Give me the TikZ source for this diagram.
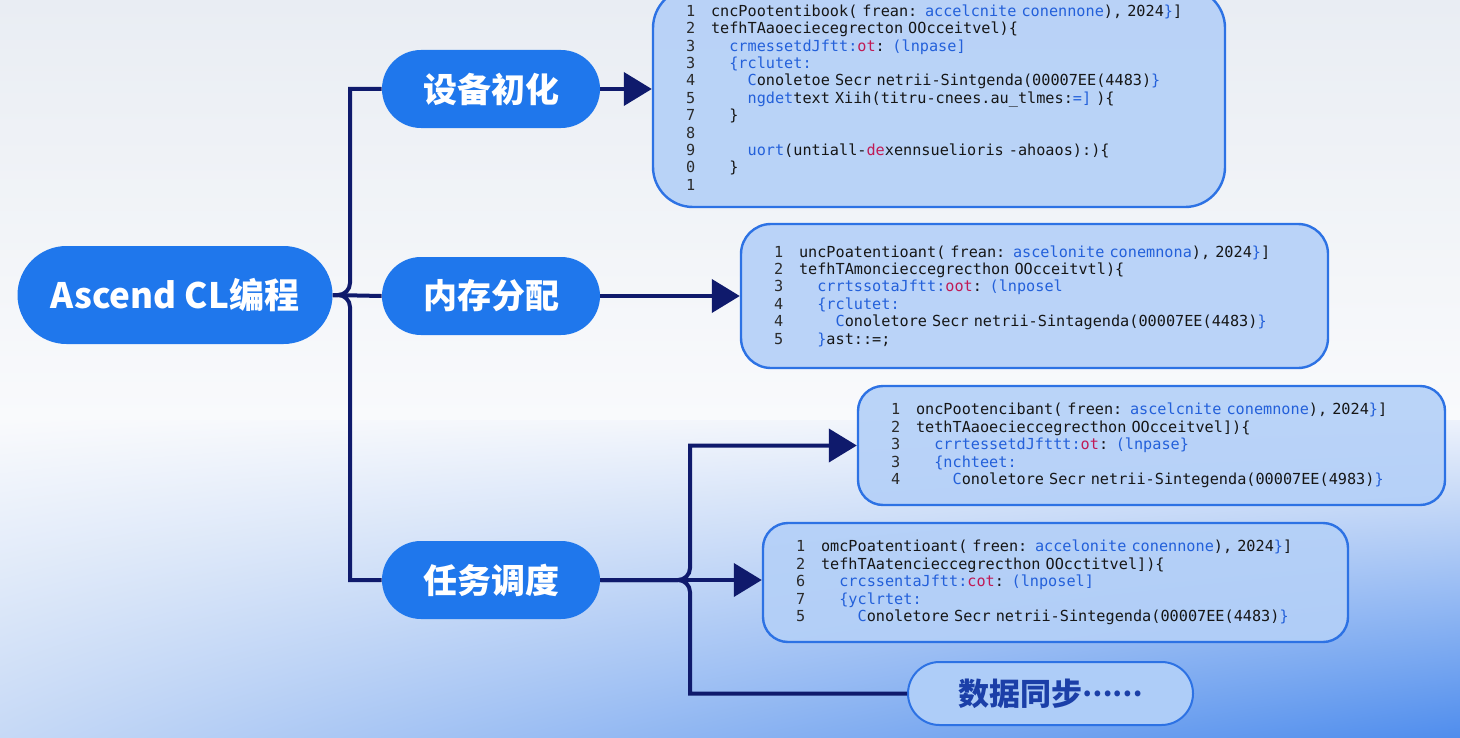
\documentclass[tikz,border=0pt]{standalone}
\usepackage{fontspec}
\setmonofont{DejaVu Sans Mono}[WordSpace={1,0,0}]
\newfontfamily\cjk{Noto Sans CJK SC}
\usetikzlibrary{arrows.meta,shadings}
\definecolor{bgtop}{HTML}{E9EDF3}
\definecolor{bgmid}{HTML}{F9FAFC}
\definecolor{bgmidr}{HTML}{EDF2FB}
\definecolor{bgbl}{HTML}{C6D9F6}
\definecolor{bgbr}{HTML}{4F8DED}
\definecolor{pillblue}{HTML}{1F77EC}
\definecolor{linenavy}{HTML}{0F1A6C}
\definecolor{boxfill}{HTML}{B4D0F8}
\definecolor{boxline}{HTML}{2D72E4}
\definecolor{lightpill}{HTML}{AECDF8}
\definecolor{pilltext}{HTML}{1B3FA8}
\definecolor{numgray}{HTML}{2B2B2B}
\definecolor{codeblack}{HTML}{161616}
\definecolor{codeblue}{HTML}{2360DA}
\definecolor{codered}{HTML}{C01A55}

\newlength\codew
\setlength\codew{4.575pt}
\newcommand\codeind[1]{\hspace*{#1\codew}}
\newcommand\cblue[1]{\textcolor{codeblue}{#1}}
\newcommand\cred[1]{\textcolor{codered}{#1}}
\newcommand\codeln[2]{\makebox[12.5pt][l]{\textcolor{numgray}{#1}}#2}

\tikzset{
  pill/.style={rectangle, rounded corners=19.5pt, fill=pillblue, text=white,
    minimum width=109pt, minimum height=39pt, inner sep=0pt,
    font=\cjk\bfseries\fontsize{17}{20}\selectfont},
  endpill/.style={rectangle, rounded corners=15.75pt, fill=lightpill, draw=boxline,
    line width=1pt, text=pilltext, minimum width=142.5pt, minimum height=31.5pt,
    inner sep=0pt, font=\cjk\bfseries\fontsize{15.5}{18}\selectfont},
  codebox/.style={rectangle, draw=boxline, line width=1.2pt, fill=boxfill,
    fill opacity=0.9, text opacity=1, text=codeblack, align=left,
    inner xsep=16.5pt, inner ysep=0pt,
    font=\ttfamily\fontsize{7.6}{8.7}\selectfont},
  link/.style={draw=linenavy, line width=2pt},
  arrowlink/.style={link, -{Triangle[length=14pt,width=16.5pt]}}
}

\begin{document}
\begin{tikzpicture}[x=0.5pt,y=-0.5pt]
  \useasboundingbox (0,0) rectangle (1460,738);
  \clip (0,0) rectangle (1460,738);
  \shade[top color=bgtop, bottom color=bgmid] (0,0) rectangle (1460,421);
  \shade[upper left=bgmid, upper right=bgmidr, lower left=bgbl, lower right=bgbr]
    (0,420) rectangle (1460,738);

  % main branches
  \node[pill, rounded corners=24.5pt, minimum width=157.5pt, minimum height=49pt,
    font=\cjk\bfseries\fontsize{17.5}{20}\selectfont] (root) at (175,295) {Ascend CL编程};
  \node[pill] (sbinit) at (491,89) {设备初化};
  \node[pill] (ncfp) at (491,296) {内存分配};
  \node[pill] (rwdd) at (491,580) {任务调度};

  % code panels
  \node[codebox, rounded corners=20pt, text width=253pt, minimum height=109.5pt] (code1) at (939,97.5) {%
    \codeln{1}{cncPootentibook( frean: \cblue{accelcnite conennone}), 2024\cblue{\}}]}\\
    \codeln{2}{tefhTAaoeciecegrecton OOcceitvel)\{}\\
    \codeln{3}{\codeind{2}\cblue{crmessetdJftt:}\cred{ot}: \cblue{(lnpase]}}\\
    \codeln{3}{\codeind{2}\cblue{\{rclutet:}}\\
    \codeln{4}{\codeind{4}\cblue{C}onoletoe Secr netrii-Sintgenda(00007EE(4483)\cblue{\}}}\\
    \codeln{5}{\codeind{4}\cblue{ngdet}text Xiih(titru-cnees.au\_tlmes:\cblue{=]} )\{}\\
    \codeln{7}{\codeind{2}\}}\\
    \codeln{8}{}\\
    \codeln{9}{\codeind{4}\cblue{uort}(untiall-\cred{de}xennsuelioris -ahoaos):)\{}\\
    \codeln{0}{\codeind{2}\}}\\
    \codeln{1}{}};
  \node[codebox, rounded corners=15pt, text width=260.5pt, minimum height=72pt] (code2) at (1034.5,296) {%
    \codeln{1}{uncPoatentioant( frean: \cblue{ascelonite conemnona}), 2024\cblue{\}}]}\\
    \codeln{2}{tefhTAmoncieccegrecthon OOcceitvtl)\{}\\
    \codeln{3}{\codeind{2}\cblue{crrtssotaJftt:}\cred{oot}: \cblue{(lnposel}}\\
    \codeln{4}{\codeind{2}\cblue{\{rclutet:}}\\
    \codeln{4}{\codeind{4}\cblue{C}onoletore Secr netrii-Sintagenda(00007EE(4483)\cblue{\}}}\\
    \codeln{5}{\codeind{2}\cblue{\}}ast::=;}};
  \node[codebox, rounded corners=12.5pt, text width=260.5pt, minimum height=59.5pt] (code3) at (1151.5,445.5) {%
    \codeln{1}{oncPootencibant( freen: \cblue{ascelcnite conemnone}), 2024\cblue{\}}]}\\
    \codeln{2}{tethTAaoecieccegrecthon OOcceitvel])\{}\\
    \codeln{3}{\codeind{2}\cblue{crrtessetdJfttt:}\cred{ot}: \cblue{(lnpase\}}}\\
    \codeln{3}{\codeind{2}\cblue{\{nchteet:}}\\
    \codeln{4}{\codeind{4}\cblue{C}onoletore Secr netrii-Sintegenda(00007EE(4983)\cblue{\}}}};
  \node[codebox, rounded corners=12.5pt, text width=259.5pt, minimum height=59.5pt] (code4) at (1055.5,582.5) {%
    \codeln{1}{omcPoatentioant( freen: \cblue{accelonite conennone}), 2024\cblue{\}}]}\\
    \codeln{2}{tefhTAatencieccegrecthon OOcctitvel])\{}\\
    \codeln{6}{\codeind{2}\cblue{crcssentaJftt:}\cred{cot}: \cblue{(lnposel]}}\\
    \codeln{7}{\codeind{2}\cblue{\{yclrtet:}}\\
    \codeln{5}{\codeind{4}\cblue{C}onoletore Secr netrii-Sintegenda(00007EE(4483)\cblue{\}}}};
  \node[endpill] (sjtb) at (1050.5,693.5) {数据同步\raisebox{4.6pt}{\fontsize{13.5}{14}\selectfont……}};

  % connectors
  \coordinate (jmain) at (350,295);
  \coordinate (jtask) at (690,580);
  \draw[link] (root.east) [rounded corners=6pt] -- (jmain) [sharp corners] |- (sbinit.west);
  \draw[link] (root.east) [rounded corners=6pt] -- (jmain) [sharp corners] |- (rwdd.west);
  \draw[link] (root.east) -- (ncfp.west);
  \draw[arrowlink] (sbinit.east) -- (sbinit.east -| code1.west);
  \draw[arrowlink] (ncfp.east) -- (code2.west);
  \draw[arrowlink] (rwdd.east) [rounded corners=6pt] -- (jtask) [sharp corners] |- (code3.west);
  \draw[arrowlink] (rwdd.east) -- (jtask -| code4.west);
  \draw[link] (rwdd.east) [rounded corners=6pt] -- (jtask) [sharp corners] |- (sjtb.west);
\end{tikzpicture}
\end{document}
